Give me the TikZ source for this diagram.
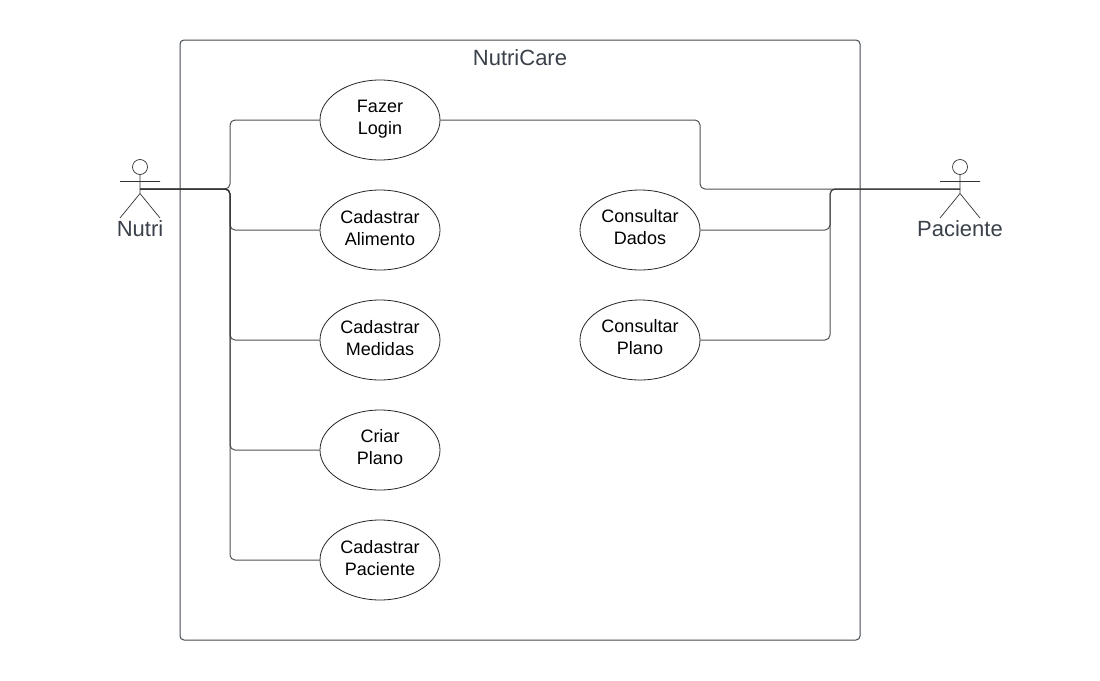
\documentclass[tikz,border=0pt]{standalone}
\usepackage{fontspec}
\setmainfont{Liberation Sans}
\usetikzlibrary{shapes.geometric,calc}
\definecolor{ink}{HTML}{3A414A}
\newcommand{\uctext}[3][5pt]{#2\\#3\rule[-#1]{0pt}{#1}}
\tikzset{
  x=1pt,y=-1pt,
  usecase/.style={draw=black!85,line width=0.8pt,ellipse,minimum width=120pt,minimum height=80pt,inner sep=0pt,align=center,font=\fontsize{18}{22}\selectfont,text=black},
  frame/.style={draw=ink,draw opacity=.95,line width=1pt,rounded corners=4pt,minimum width=680pt,minimum height=600pt,inner sep=0pt},
  wire/.style={draw=black!80,draw opacity=.85,line width=1pt,rounded corners=5pt},
  limb/.style={draw=black!80,line width=0.7pt},
  head/.style={circle,draw=black!80,line width=0.7pt,minimum size=15pt,inner sep=0pt},
  actorlabel/.style={text=ink,font=\fontsize{22}{26}\selectfont,inner sep=0pt},
  titlelabel/.style={text=ink,font=\fontsize{22}{26}\selectfont,inner sep=0pt}
}
\begin{document}
\begin{tikzpicture}
\useasboundingbox (0,0) rectangle (1100,680);
\fill[white] (0,0) rectangle (1100,680);
\node[frame] (sys) at (520,340) {};
\node[titlelabel] (title) at (520,58) {NutriCare};
% use cases
\node[usecase] (login) at (380,120) {\uctext{Fazer}{Login}};
\node[usecase] (alim) at (380,230) {\uctext{Cadastrar}{Alimento}};
\node[usecase] (med) at (380,340) {\uctext{Cadastrar}{Medidas}};
\node[usecase] (plano) at (380,450) {\uctext[7pt]{Criar}{Plano}};
\node[usecase] (pac) at (380,560) {\uctext{Cadastrar}{Paciente}};
\node[usecase] (dados) at (640,230) {\uctext[7pt]{Consultar}{Dados}};
\node[usecase] (cplano) at (640,340) {\uctext[7pt]{Consultar}{Plano}};
% actor Nutri
\node[head] (nh) at (140,167) {};
\coordinate (nhip) at (140,189);
\coordinate (nfork) at (140,193.5);
\coordinate (nl) at (120,218);
\coordinate (nr) at (160,218);
\coordinate (nal) at (120,181.5);
\coordinate (nar) at (160,181.5);
\draw[limb] (nh.south) -- (nfork) (nal) -- (nar) (nl) -- (nfork) -- (nr);
\node[actorlabel] (nutri) at (140,228.5) {Nutri};
% actor Paciente
\node[head] (ph) at (960,167) {};
\coordinate (phip) at (960,189);
\coordinate (pfork) at (960,193.5);
\coordinate (pl) at (940,218);
\coordinate (pr) at (980,218);
\coordinate (pal) at (940,181.5);
\coordinate (par) at (980,181.5);
\draw[limb] (ph.south) -- (pfork) (pal) -- (par) (pl) -- (pfork) -- (pr);
\node[actorlabel] (paciente) at (960,229) {Paciente};
% connectors
\foreach \t in {login,alim,med,plano,pac}{
  \draw[wire] (nhip) -- (230,189) |- (\t.west);
}
\draw[wire] (phip) -- (700,189) |- (login.east);
\draw[wire] (phip) -- (830,189) |- (dados.east);
\draw[wire] (phip) -- (830,189) |- (cplano.east);
\end{tikzpicture}
\end{document}
